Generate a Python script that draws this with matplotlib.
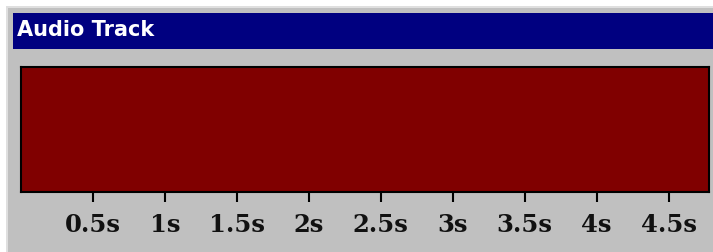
import matplotlib
matplotlib.use("Agg")
import matplotlib.pyplot as plt
from matplotlib.patches import Rectangle

title = "Audio Track"
duration = 4.78  # seconds shown
tick_values = [0.5, 1.0, 1.5, 2.0, 2.5, 3.0, 3.5, 4.0, 4.5]
tick_labels = ["0.5s", "1s", "1.5s", "2s", "2.5s", "3s", "3.5s", "4s", "4.5s"]

W, H = 713, 252
fig = plt.figure(figsize=(W / 100, H / 100), dpi=100)
fig.patch.set_facecolor("#C0C0C0")

def px_rect(x0, y0, x1, y1, color, z=0):
    fig.patches.append(Rectangle((x0 / W, 1 - y1 / H), (x1 - x0) / W, (y1 - y0) / H,
                                 transform=fig.transFigure, facecolor=color,
                                 edgecolor="none", zorder=z))

# window frame
px_rect(0, 0, 6, H, "white")
px_rect(0, 0, W, 6, "white")
px_rect(6, 6, 8, H, "#DFDFDF")
px_rect(6, 6, W, 8, "#DFDFDF")
# title bar
px_rect(13, 13, W, 49, "#000080")
fig.text(17 / W, 1 - 30.5 / H, title, color="white", fontsize=15, fontweight="bold",
         family="DejaVu Sans", va="center", ha="left")

# axes in pixel coordinates
ax_x0, ax_x1, ax_y0, ax_y1 = 21, 709, 67, 192
ax = fig.add_axes([ax_x0 / W, 1 - ax_y1 / H, (ax_x1 - ax_x0) / W, (ax_y1 - ax_y0) / H])
ax.set_facecolor("#C0C0C0")
ax.barh([0], [duration], height=1.0, left=0, color="#800000", align="center")
ax.set_xlim(0, duration)
ax.set_ylim(-0.5, 0.5)
ax.set_yticks([])
ax.set_xticks(tick_values)
ax.set_xticklabels(tick_labels, family="DejaVu Serif", fontsize=17.5, fontweight="semibold",
                   color="#111111")
ax.tick_params(axis="x", direction="out", length=7, width=1.5, color="black", pad=8)
for s in ax.spines.values():
    s.set_color("black")
    s.set_linewidth(1.5)

fig.savefig("out.png", dpi=100, facecolor=fig.get_facecolor())
